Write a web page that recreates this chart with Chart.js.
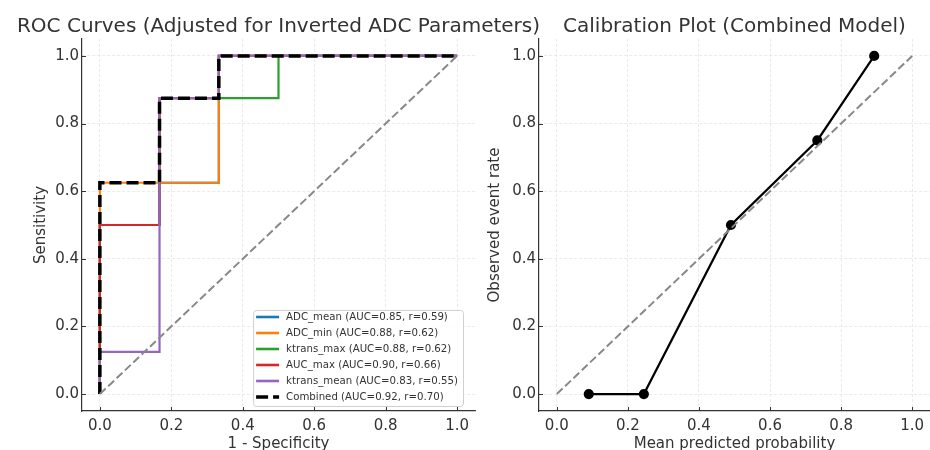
<!DOCTYPE html>
<html lang="en">
  <head>
    <title>ROC and calibration</title>
    <meta charset="utf-8">
    <script src="https://cdn.jsdelivr.net/npm/chart.js@4.4.1/dist/chart.umd.min.js"></script>
    <style>
      body { margin: 0; background: #fff; }
      #wrap { position: relative; width: 930px; height: 450px; }
      canvas { position: absolute; top: 0; }
    </style>
  </head>
  <body>
    <div id="wrap">
      <canvas id="calChart" width="452" height="450" style="left:478px"></canvas>
      <canvas id="rocChart" width="556" height="450" style="left:0"></canvas>
    </div>
  <script>
    // ROC steps (1 - specificity, sensitivity)
    const adcMeanFpr   = [0, 0, 0.167, 0.167, 0.333, 0.333, 1];
    const adcMeanTpr   = [0, 0.5, 0.5, 0.625, 0.625, 1, 1];
    const adcMinFpr    = [0, 0, 0.333, 0.333, 1];
    const adcMinTpr    = [0, 0.625, 0.625, 1, 1];
    const ktransMaxFpr = [0, 0, 0.167, 0.167, 0.5, 0.5, 1];
    const ktransMaxTpr = [0, 0.5, 0.5, 0.875, 0.875, 1, 1];
    const aucMaxFpr    = [0, 0, 0.167, 0.167, 0.333, 0.333, 1];
    const aucMaxTpr    = [0, 0.5, 0.5, 0.875, 0.875, 1, 1];
    const ktransMeanFpr = [0, 0, 0.167, 0.167, 0.333, 0.333, 1];
    const ktransMeanTpr = [0, 0.125, 0.125, 0.875, 0.875, 1, 1];
    const combinedFpr  = [0, 0, 0.167, 0.167, 0.333, 0.333, 1];
    const combinedTpr  = [0, 0.625, 0.625, 0.875, 0.875, 1, 1];
    const rocLabels = [
      'ADC_mean (AUC=0.85, r=0.59)',
      'ADC_min (AUC=0.88, r=0.62)',
      'ktrans_max (AUC=0.88, r=0.62)',
      'AUC_max (AUC=0.90, r=0.66)',
      'ktrans_mean (AUC=0.83, r=0.55)',
      'Combined (AUC=0.92, r=0.70)'
    ];
    const refLine = [0, 1];

    // calibration bins
    const meanPredicted = [0.09, 0.245, 0.49, 0.733, 0.893];
    const observedRate  = [0, 0, 0.5, 0.75, 1.0];

    const tickValues = [0, 0.2, 0.4, 0.6, 0.8, 1.0];

    function pts(xs, ys) { return xs.map((x, i) => ({x: x, y: ys[i]})); }

    const FONT = '"DejaVu Sans", sans-serif';
    const TXT = '#333';

    // title centred over the plot area (not the whole canvas)
    const axesTitle = {
      id: 'axesTitle',
      afterDraw(chart, args, opts) {
        const {ctx, chartArea} = chart;
        ctx.save();
        ctx.font = '20px ' + FONT;
        ctx.fillStyle = TXT;
        ctx.textAlign = 'center';
        ctx.textBaseline = 'alphabetic';
        ctx.fillText(opts.text, (chartArea.left + chartArea.right) / 2, 31.5);
        ctx.restore();
      }
    };

    // matplotlib style: ticks pointing inward
    const innerTicks = {
      id: 'innerTicks',
      afterDraw(chart) {
        const {ctx, chartArea, scales} = chart;
        ctx.save();
        ctx.strokeStyle = '#333';
        ctx.lineWidth = 1;
        tickValues.forEach(v => {
          const px = Math.round(scales.x.getPixelForValue(v)) + 0.5;
          ctx.beginPath();
          ctx.moveTo(px, chartArea.bottom);
          ctx.lineTo(px, chartArea.bottom - 4);
          ctx.stroke();
          const py = Math.round(scales.y.getPixelForValue(v)) + 0.5;
          ctx.beginPath();
          ctx.moveTo(chartArea.left, py);
          ctx.lineTo(chartArea.left + 4, py);
          ctx.stroke();
        });
        ctx.restore();
      }
    };

    // legend in the lower right of the plot area
    const innerLegend = {
      id: 'innerLegend',
      afterDraw(chart) {
        const items = chart.data.datasets.filter(d => d.label);
        if (!items.length) return;
        const {ctx, chartArea} = chart;
        ctx.save();
        ctx.font = '10.2px ' + FONT;
        const textW = Math.max(...items.map(d => ctx.measureText(d.label).width));
        const w = 33 + textW + 5, h = 7 + (items.length - 1) * 16 + 9;
        const x0 = chartArea.right - 12 - w, y0 = chartArea.bottom - 5 - h;
        ctx.fillStyle = 'rgba(255,255,255,0.85)';
        ctx.strokeStyle = '#d0d0d0';
        ctx.lineWidth = 1;
        ctx.beginPath();
        ctx.roundRect(x0 + 0.5, y0 + 0.5, w, h, 3);
        ctx.fill();
        ctx.stroke();
        items.forEach((d, i) => {
          const cy = y0 + 7 + i * 16;
          ctx.strokeStyle = d.borderColor;
          ctx.lineWidth = d.borderDash ? d.borderWidth : 2.6;
          ctx.setLineDash(d.borderDash || []);
          ctx.beginPath();
          ctx.moveTo(x0 + 3, cy);
          ctx.lineTo(x0 + 26, cy);
          ctx.stroke();
          ctx.setLineDash([]);
          ctx.fillStyle = TXT;
          ctx.textBaseline = 'middle';
          ctx.fillText(d.label, x0 + 33, cy + 0.5);
        });
        ctx.restore();
      }
    };

    function axis(title, titlePad, fitSize, isX) {
      return {
        type: 'linear',
        min: -0.05,
        max: 1.05,
        afterBuildTicks: s => { s.ticks = tickValues.map(v => ({value: v})); },
        afterFit: s => {
          if (isX) s.height = fitSize; else s.width = fitSize;
          s.paddingLeft = 0; s.paddingRight = 0; s.paddingTop = 0; s.paddingBottom = 0;
        },
        grid: { color: '#e4e4e4', lineWidth: 0.8, drawTicks: false },
        border: { display: true, color: '#333', width: 1.2, dash: [3, 2] },
        ticks: {
          color: TXT, padding: isX ? 6 : 3,
          font: { family: FONT, size: 15 },
          callback: v => Number(v).toFixed(1)
        },
        title: {
          display: true, text: title, color: TXT,
          font: { family: FONT, size: 15, lineHeight: 1 },
          padding: titlePad
        }
      };
    }

    const rocColors = ['#1f77b4', '#ff7f0e', '#2ca02c', '#d62728', '#9467bd'];
    const rocSeries = [
      [adcMeanFpr, adcMeanTpr], [adcMinFpr, adcMinTpr], [ktransMaxFpr, ktransMaxTpr],
      [aucMaxFpr, aucMaxTpr], [ktransMeanFpr, ktransMeanTpr]
    ];
    const rocSets = rocSeries.map((s, i) => ({
      label: rocLabels[i], data: pts(s[0], s[1]),
      borderColor: rocColors[i], backgroundColor: rocColors[i],
      borderWidth: 2.2, showLine: true, pointRadius: 0, order: 10 - i
    }));
    rocSets.push({
      label: rocLabels[5], data: pts(combinedFpr, combinedTpr),
      borderColor: '#000', backgroundColor: '#000', borderWidth: 3.5,
      borderDash: [12, 5], showLine: true, pointRadius: 0, order: 2
    });
    rocSets.push({
      label: '', data: pts(refLine, refLine),
      borderColor: '#888', borderWidth: 2, borderDash: [8, 3.5],
      showLine: true, pointRadius: 0, order: 1
    });

    new Chart(document.getElementById('rocChart'), {
      type: 'scatter',
      data: { datasets: rocSets },
      options: {
        responsive: false, animation: false, devicePixelRatio: 1,
        layout: { autoPadding: false, padding: { left: 0, right: 81, top: 39, bottom: 0 } },
        plugins: { legend: { display: false }, tooltip: { enabled: false }, title: { display: false },
                   axesTitle: { text: 'ROC Curves (Adjusted for Inverted ADC Parameters)' } },
        scales: {
          x: axis('1 - Specificity', { top: 0, bottom: -2 }, 39, true),
          y: axis('Sensitivity', { top: 34, bottom: 0 }, 82, false)
        }
      },
      plugins: [innerTicks, innerLegend, axesTitle]
    });

    new Chart(document.getElementById('calChart'), {
      type: 'scatter',
      data: {
        datasets: [{
          data: pts(meanPredicted, observedRate),
          borderColor: '#000', backgroundColor: '#000', borderWidth: 2.2,
          showLine: true, pointRadius: 4, order: 2, clip: 6
        }, {
          data: pts(refLine, refLine),
          borderColor: '#888', borderWidth: 2, borderDash: [8, 3.5],
          showLine: true, pointRadius: 0, order: 1
        }]
      },
      options: {
        responsive: false, animation: false, devicePixelRatio: 1,
        layout: { autoPadding: false, padding: { left: 0, right: 0, top: 39, bottom: 0 } },
        plugins: { legend: { display: false }, tooltip: { enabled: false }, title: { display: false },
                   axesTitle: { text: 'Calibration Plot (Combined Model)' } },
        scales: {
          x: axis('Mean predicted probability', { top: 0, bottom: -2 }, 39, true),
          y: axis('Observed event rate', { top: 10, bottom: 0 }, 61, false)
        }
      },
      plugins: [innerTicks, axesTitle]
    });
  </script>
  </body>
</html>
